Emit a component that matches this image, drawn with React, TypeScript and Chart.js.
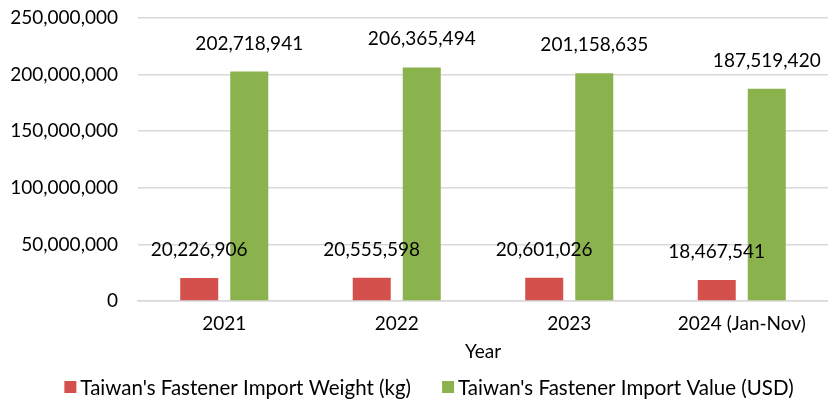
import React, { useEffect, useRef } from "react";
import { Chart, registerables } from "chart.js";

Chart.register(...registerables);

const categories = ["2021", "2022", "2023", "2024 (Jan-Nov)"];
const weightKg = [20226906, 20555598, 20601026, 18467541];
const valueUsd = [202718941, 206365494, 201158635, 187519420];
const seriesNames = ["Taiwan's Fastener Import Weight (kg)", "Taiwan's Fastener Import Value (USD)"];
const seriesColors = ["#D4504D", "#8AB34E"];

const FONT = "Lato, 'Open Sans', sans-serif";

const labelPlugin = {
  id: "barLabels",
  afterDatasetsDraw(chart: any) {
    const ctx = chart.ctx;
    ctx.save();
    ctx.font = `19px ${FONT}`;
    ctx.fillStyle = "#000";
    ctx.textAlign = "center";
    ctx.textBaseline = "alphabetic";
    chart.data.datasets.forEach((ds: any, i: number) => {
      const meta = chart.getDatasetMeta(i);
      meta.data.forEach((bar: any, j: number) => {
        const v = ds.data[j] as number;
        ctx.fillText(v.toLocaleString("en-US"), bar.x, bar.y - 22);
      });
    });
    ctx.restore();
  },
};

const legendPlugin = {
  id: "customLegend",
  afterDraw(chart: any) {
    const ctx = chart.ctx;
    ctx.save();
    const fontSize = 20.5;
    ctx.font = `${fontSize}px ${FONT}`;
    ctx.textBaseline = "middle";
    ctx.textAlign = "left";
    const box = 12;
    const gap = 4;
    const itemGap = 31;
    const widths = seriesNames.map((n) => ctx.measureText(n).width);
    const total = widths.reduce((a, w) => a + box + gap + w, 0) + itemGap * (seriesNames.length - 1);
    let x = (chart.width - total) / 2 + 15;
    const y = 387;
    seriesNames.forEach((n, i) => {
      ctx.fillStyle = seriesColors[i];
      ctx.fillRect(x, y - box / 2, box, box);
      ctx.fillStyle = "#000";
      ctx.fillText(n, x + box + gap, y + 1);
      x += box + gap + widths[i] + itemGap;
    });
    ctx.restore();
  },
};

export default function App() {
  const ref = useRef<HTMLCanvasElement>(null);
  useEffect(() => {
    document.body.style.margin = "0";
    const chart = new Chart(ref.current!, {
      type: "bar",
      data: {
        labels: categories,
        datasets: [
          { label: seriesNames[0], data: weightKg, backgroundColor: seriesColors[0], categoryPercentage: 0.58, barPercentage: 0.76 },
          { label: seriesNames[1], data: valueUsd, backgroundColor: seriesColors[1], categoryPercentage: 0.58, barPercentage: 0.76 },
        ],
      },
      options: {
        animation: false,
        responsive: false,
        maintainAspectRatio: false,
        layout: { padding: { top: 6, right: 0, left: 0, bottom: 30 } },
        scales: {
          y: {
            min: 0,
            max: 250000000,
            afterFit: (scale: any) => {
              scale.width = 138;
              scale.paddingTop = 18;
              scale.paddingBottom = 0;
            },
            ticks: {
              stepSize: 50000000,
              color: "#000",
              font: { size: 19, family: FONT },
              padding: 20,
              callback: (v: any) => Number(v).toLocaleString("en-US"),
            },
            grid: { color: "#d9d9d9", lineWidth: 1.5, drawTicks: false },
            border: { display: false },
          },
          x: {
            afterFit: (scale: any) => {
              scale.height = 70;
            },
            ticks: { color: "#000", font: { size: 19, family: FONT }, padding: 11 },
            grid: { display: false, drawTicks: false },
            border: { color: "#d9d9d9", width: 1.5 },
            title: { display: true, text: "Year", color: "#000", font: { size: 19, family: FONT }, padding: { top: 6, bottom: 8 } },
          },
        },
        plugins: {
          legend: { display: false },
          tooltip: { enabled: false },
        },
      },
      plugins: [labelPlugin, legendPlugin],
    });
    return () => chart.destroy();
  }, []);
  return (
    <div style={{ width: 828, height: 401 }}>
      <canvas ref={ref} width={828} height={401} />
    </div>
  );
}
